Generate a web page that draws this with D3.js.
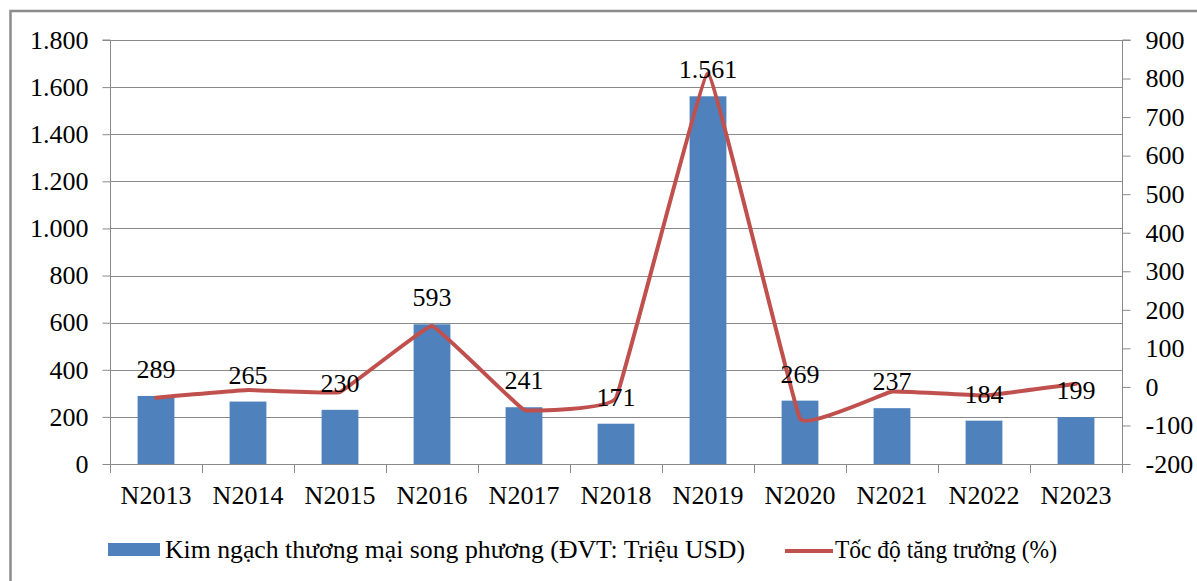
<!DOCTYPE html>
<html>
<head>
<meta charset="utf-8">
<script src="https://cdn.jsdelivr.net/npm/d3@7/dist/d3.min.js"></script>
<style>
  html, body { margin: 0; padding: 0; background: #fff; }
  svg { display: block; }
  text { font-family: "Liberation Serif", "Times New Roman", Times, serif; fill: #000; }
</style>
</head>
<body>
<svg id="chart" width="1197" height="581"></svg>
<script>
// Years shown on the category axis
const categories = ["N2013", "N2014", "N2015", "N2016", "N2017", "N2018", "N2019", "N2020", "N2021", "N2022", "N2023"];
// Bilateral trade turnover (million USD)
const tradeValues = [289, 265, 230, 593, 241, 171, 1561, 269, 237, 184, 199];
// Year-on-year growth rate (%)
const growthValues = [-28, -8.3, -13.2, 157.8, -59.4, -29.1, 812.9, -82.8, -11.9, -22.4, 8.2];
// Axis tick values
const leftTicks = [0, 200, 400, 600, 800, 1000, 1200, 1400, 1600, 1800];
const rightTicks = [-200, -100, 0, 100, 200, 300, 400, 500, 600, 700, 800, 900];
// Legend entries
const barLegend = "Kim ngạch thương mại song phương (ĐVT: Triệu USD)";
const lineLegend = "Tốc độ tăng trưởng (%)";

const BAR_COLOR = "#4f81bd";
const LINE_COLOR = "#c0504d";
const GRID_COLOR = "#898989";
const FONT_SIZE = 26;
const FONT = '"Liberation Serif", "Times New Roman", Times, serif';

const svg = d3.select("#chart");
const plot = { left: 110, right: 1122, top: 40, bottom: 464 };

// Number formatting with "." as thousands separator
const vn = d3.formatLocale({ decimal: ",", thousands: ".", grouping: [3], currency: ["", ""], minus: "-" });
const fmt = vn.format(",d");
const fmtPct = vn.format("d");

const x = d3.scaleBand().domain(categories).range([plot.left, plot.right])
  .paddingInner(0.6).paddingOuter(0.3);
const yLeft = d3.scaleLinear().domain([0, 1800]).range([plot.bottom, plot.top]);
const yRight = d3.scaleLinear().domain([-200, 900]).range([plot.bottom, plot.top]);

// Outer frame
svg.append("rect")
  .attr("x", 10.5).attr("y", 11).attr("width", 1200).attr("height", 600)
  .attr("fill", "none").attr("stroke", "#8c8c8c").attr("stroke-width", 2.5);

// Horizontal gridlines
svg.append("g").selectAll("line")
  .data(leftTicks.filter(d => d > 0))
  .join("line")
  .attr("x1", plot.left).attr("x2", plot.right)
  .attr("y1", d => Math.round(yLeft(d)) + 0.5).attr("y2", d => Math.round(yLeft(d)) + 0.5)
  .attr("stroke", GRID_COLOR).attr("stroke-width", 1);

// Left axis
const gLeft = svg.append("g")
  .attr("transform", `translate(${plot.left + 0.5},0)`)
  .call(d3.axisLeft(yLeft).tickValues(leftTicks).tickSize(8).tickPadding(14).tickFormat(fmt));
// Right axis
const gRight = svg.append("g")
  .attr("transform", `translate(${plot.right + 0.5},0)`)
  .call(d3.axisRight(yRight).tickValues(rightTicks).tickSize(8).tickPadding(15).tickFormat(fmtPct));

[gLeft, gRight].forEach(g => {
  g.attr("font-family", FONT).attr("font-size", FONT_SIZE);
  g.select(".domain").attr("stroke", GRID_COLOR).attr("stroke-width", 1);
  g.selectAll(".tick line").attr("stroke", GRID_COLOR);
  g.selectAll(".tick text").attr("fill", "#000");
});
gRight.select(".domain").attr("d", `M8,${plot.top}H0V${plot.bottom + 9}`);
gLeft.select(".domain").attr("d", `M-8,${plot.top}H0V${plot.bottom + 9}`);

// Category axis baseline and boundary ticks
svg.append("line")
  .attr("x1", plot.left).attr("x2", plot.right)
  .attr("y1", plot.bottom + 0.5).attr("y2", plot.bottom + 0.5)
  .attr("stroke", GRID_COLOR);
const step = x.step();
svg.append("g").selectAll("line")
  .data(d3.range(categories.length + 1))
  .join("line")
  .attr("x1", i => Math.round(plot.left + i * step) + 0.5)
  .attr("x2", i => Math.round(plot.left + i * step) + 0.5)
  .attr("y1", plot.bottom).attr("y2", plot.bottom + 9)
  .attr("stroke", GRID_COLOR);
svg.append("g").selectAll("text")
  .data(categories)
  .join("text")
  .attr("x", d => x(d) + x.bandwidth() / 2)
  .attr("y", 504)
  .attr("text-anchor", "middle")
  .attr("font-size", FONT_SIZE)
  .text(d => d);

// Bars
svg.append("g").selectAll("rect")
  .data(categories.map((c, i) => ({ c, v: tradeValues[i] })))
  .join("rect")
  .attr("x", d => x(d.c))
  .attr("y", d => yLeft(d.v))
  .attr("width", x.bandwidth())
  .attr("height", d => yLeft(0) - yLeft(d.v))
  .attr("fill", BAR_COLOR);

// Growth line, lightly smoothed
const line = d3.line()
  .x((d, i) => x(categories[i]) + x.bandwidth() / 2)
  .y(d => yRight(d))
  .curve(d3.curveCardinal.tension(0.8));
svg.append("path")
  .datum(growthValues)
  .attr("d", line)
  .attr("fill", "none")
  .attr("stroke", LINE_COLOR)
  .attr("stroke-width", 4)
  .attr("stroke-linejoin", "round")
  .attr("stroke-linecap", "round");

// Bar value labels
svg.append("g").selectAll("text")
  .data(categories.map((c, i) => ({ c, v: tradeValues[i] })))
  .join("text")
  .attr("x", d => x(d.c) + x.bandwidth() / 2)
  .attr("y", d => yLeft(d.v) - 18)
  .attr("text-anchor", "middle")
  .attr("font-size", FONT_SIZE)
  .text(d => fmt(d.v));

// Legend
const lg = svg.append("g");
lg.append("rect")
  .attr("x", 108).attr("y", 543).attr("width", 52).attr("height", 13)
  .attr("fill", BAR_COLOR);
lg.append("text")
  .attr("x", 165).attr("y", 558)
  .attr("font-size", FONT_SIZE)
  .attr("textLength", 580).attr("lengthAdjust", "spacingAndGlyphs")
  .text(barLegend);
lg.append("line")
  .attr("x1", 785).attr("x2", 833).attr("y1", 551).attr("y2", 551)
  .attr("stroke", LINE_COLOR).attr("stroke-width", 4);
lg.append("text")
  .attr("x", 835).attr("y", 558)
  .attr("font-size", FONT_SIZE)
  .attr("textLength", 222).attr("lengthAdjust", "spacingAndGlyphs")
  .text(lineLegend);
</script>
</body>
</html>
